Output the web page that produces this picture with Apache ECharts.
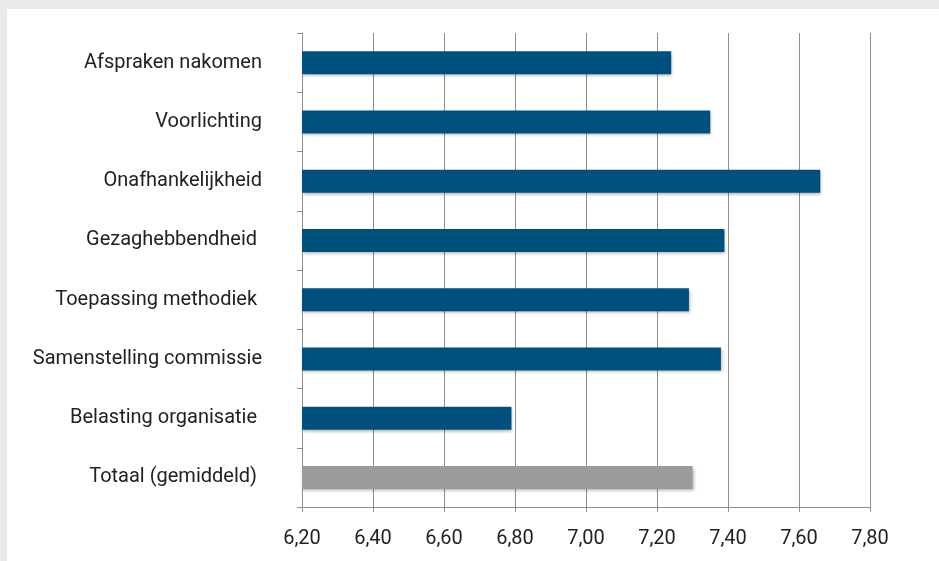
<!DOCTYPE html>
<html>
<head>
<meta charset="utf-8">
<script src="https://cdn.jsdelivr.net/npm/echarts@6/dist/echarts.min.js"></script>
<style>
html,body{margin:0;padding:0;background:#e9eaea;}
#c{width:939px;height:561px;}
</style>
</head>
<body>
<div id="c"></div>
<script>
const categories = ["Afspraken nakomen","Voorlichting","Onafhankelijkheid","Gezaghebbendheid ","Toepassing methodiek ","Samenstelling commissie","Belasting organisatie ","Totaal (gemiddeld) "];
const values = [7.24, 7.35, 7.66, 7.39, 7.29, 7.38, 6.79, 7.30];
const highlight = [false,false,false,false,false,false,false,true];
const xTicks = [6.2, 6.4, 6.6, 6.8, 7.0, 7.2, 7.4, 7.6, 7.8];

const chart = echarts.init(document.getElementById('c'), null, {renderer:'canvas'});
const fontFam = 'Roboto, "Open Sans", sans-serif';
chart.setOption({
  backgroundColor: 'transparent',
  animation: false,
  graphic: [{type:'rect', shape:{x:7, y:9, width:932, height:552}, style:{fill:'#ffffff'}, z:-10, silent:true}],
  grid: {left: 302, right: 69, top: 33, bottom: 54, containLabel: false},
  xAxis: {
    type: 'value', min: xTicks[0], max: xTicks[xTicks.length-1], interval: 0.2,
    axisLine: {show: true, lineStyle: {color: '#8e8e8e', width: 1}},
    axisTick: {show: true, length: 5, lineStyle: {color: '#8e8e8e'}},
    splitLine: {show: true, lineStyle: {color: '#8e8e8e', width: 1}},
    axisLabel: {color: '#222222', fontSize: 20, fontFamily: fontFam, margin: 22,
      formatter: v => v.toFixed(2).replace('.', ',')}
  },
  yAxis: {
    type: 'category', data: categories, inverse: true,
    axisLine: {show: true, lineStyle: {color: '#8e8e8e', width: 1}},
    axisTick: {show: true, length: 5, alignWithLabel: false, lineStyle: {color: '#8e8e8e'}},
    axisLabel: {color: '#222222', fontSize: 20, fontFamily: fontFam, margin: 40}
  },
  series: [{
    type: 'bar', barWidth: 23,
    data: values.map((v, i) => ({value: v, itemStyle: {color: highlight[i] ? '#9a9b9a' : '#00507d'}})),
    itemStyle: {shadowColor: 'rgba(0,0,0,0.3)', shadowBlur: 3, shadowOffsetX: 1, shadowOffsetY: 2}
  }]
});
</script>
</body>
</html>
